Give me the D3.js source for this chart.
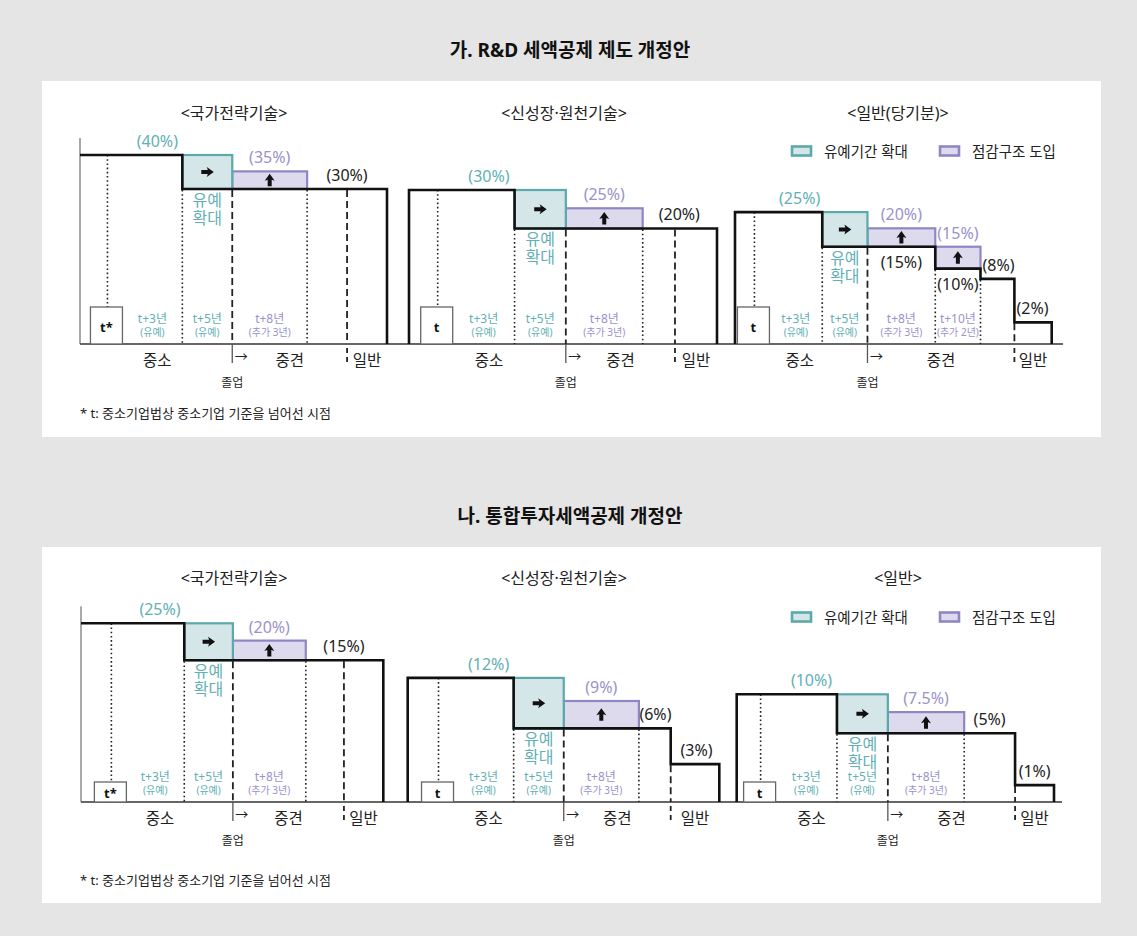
<!DOCTYPE html>
<html>
<head>
<meta charset="utf-8">
<script src="https://cdn.jsdelivr.net/npm/d3@7"></script>
<style>
  body { margin: 0; background: #e5e5e5; }
  svg { display: block; }
  text { font-family: "Noto Sans", "Noto Sans CJK KR", sans-serif; }
</style>
</head>
<body>
<svg id="chart" width="1137" height="936"></svg>
<script>
// ---------- text ----------
const sectionTitles = ["가. R&D 세액공제 제도 개정안", "나. 통합투자세액공제 개정안"];
const chartTitlesRD = ["<국가전략기술>", "<신성장·원천기술>", "<일반(당기분)>"];
const chartTitlesInv = ["<국가전략기술>", "<신성장·원천기술>", "<일반>"];
const legendLabels = ["유예기간 확대", "점감구조 도입"];
const stageLabels = ["중소", "중견", "일반"];
const graceLabel = ["유예", "확대"];
const graduationLabel = "졸업";
const footnote = "* t: 중소기업법상 중소기업 기준을 넘어선 시점";

// ---------- data (years counted from t, credit rates in %) ----------
// Credit-rate step line: [year the rate starts, rate]; the last entry closes the line
const rdNationalSteps  = [[-1.1, 40], [3, 30], [11.2, 30]];
const rdGrowthSteps    = [[-1.12, 30], [3, 20], [10.9, 20]];
const rdGeneralSteps   = [[-0.86, 25], [3, 15], [8, 10], [10, 8], [11.5, 2], [13.15, 2]];
const invNationalSteps = [[-1.25, 25], [3, 15], [11.19, 15]];
const invGrowthSteps   = [[-1.23, 12], [3, 6], [9.27, 3], [11.21, 3]];
const invGeneralSteps  = [[-0.94, 10], [3, 5], [10, 1], [11.53, 1]];

// Phase-down (점감) boxes: [from year, to year, rate]
const rdNationalTaper  = [[5, 8, 35]];
const rdGrowthTaper    = [[5, 8, 25]];
const rdGeneralTaper   = [[5, 8, 20], [8, 10, 15]];
const invNationalTaper = [[5, 8, 20]];
const invGrowthTaper   = [[5, 8, 9]];
const invGeneralTaper  = [[5, 8, 7.5]];

// Extended grace period (유예): t+3 → t+5; graduation (졸업) at its end
const graceYears = [3, 5];
// Year the firm is treated as 일반 (general)
const generalYears = [9.6, 9.26, 11.5, 9.57, 9.27, 10];

// ---------- layout ----------
const W = 1137, H = 936;
const panels = [
  { title: sectionTitles[0], titleY: 50, top: 81, baseline: 344, legendY: 151, chartTitleY: 113, footY: 413, tBoxH: 37, baseX: [80, 1063] },
  { title: sectionTitles[1], titleY: 516, top: 547, baseline: 802, legendY: 617, chartTitleY: 578, footY: 880, tBoxH: 20, baseX: [81, 1062] }
];

// rateLabels: [step index, year of label centre, side (-1 above / 1 below)]
const charts = [
  { panel: 0, title: chartTitlesRD[0], cx: 234, steps: rdNationalSteps, taper: rdNationalTaper, general: generalYears[0], tMark: "t*", axis: true,
    xRange: [80, 387], yRange: [408.6, 155], rateLabels: [[1, 9.6, -1]] },
  { panel: 0, title: chartTitlesRD[1], cx: 564, steps: rdGrowthSteps, taper: rdGrowthTaper, general: generalYears[1], tMark: "t", axis: false,
    xRange: [409, 717], yRange: [399.8, 190], rateLabels: [[1, 9.43, -1]] },
  { panel: 0, title: chartTitlesRD[2], cx: 898, steps: rdGeneralSteps, taper: rdGeneralTaper, general: generalYears[2], tMark: "t", axis: false,
    xRange: [735, 1051.7], yRange: [365.8, 212.1], rateLabels: [[1, 6.5, 1], [2, 9, 1], [3, 10.8, -1], [4, 12.3, -1]] },
  { panel: 1, title: chartTitlesInv[0], cx: 234, steps: invNationalSteps, taper: invNationalTaper, general: generalYears[3], tMark: "t*", axis: true,
    xRange: [81, 383.3], yRange: [787.3, 623.3], rateLabels: [[1, 9.57, -1]] },
  { panel: 1, title: chartTitlesInv[1], cx: 564, steps: invGrowthSteps, taper: invGrowthTaper, general: generalYears[4], tMark: "t", axis: false,
    xRange: [407.7, 719.3], yRange: [850.4, 677.9], rateLabels: [[1, 8.66, -1], [2, 10.3, -1]] },
  { panel: 1, title: chartTitlesInv[2], cx: 898, steps: invGeneralSteps, taper: invGeneralTaper, general: generalYears[5], tMark: "t", axis: false,
    xRange: [736.7, 1054], yRange: [827.1, 694.3], rateLabels: [[1, 9.0, -1], [2, 10.77, -1]] }
];

const COL = {
  teal: "#5ba8ad", tealFill: "#d4e6e7", tealText: "#62b0b5",
  purple: "#8f87c3", purpleFill: "#dddaed", purpleText: "#9a92cc",
  ink: "#111", text: "#222", guide: "#222", gray: "#666"
};

const svg = d3.select("#chart");
svg.append("rect").attr("width", W).attr("height", H).attr("fill", "#e5e5e5");

// ---------- panels ----------
panels.forEach(p => {
  svg.append("rect").attr("x", 42).attr("y", p.top).attr("width", 1059).attr("height", 356).attr("fill", "#fff");
  svg.append("text").attr("x", 570).attr("y", p.titleY)
    .attr("text-anchor", "middle").attr("dominant-baseline", "central")
    .attr("font-size", 19).attr("font-weight", 700).attr("fill", COL.ink).text(p.title);

  // shared baseline
  svg.append("line").attr("x1", p.baseX[0]).attr("x2", p.baseX[1])
    .attr("y1", p.baseline).attr("y2", p.baseline)
    .attr("stroke", "#333").attr("stroke-width", 1.5);

  // legend
  const lg = svg.append("g").attr("transform", `translate(0,${p.legendY})`);
  [[792, COL.teal, COL.tealFill, 824, legendLabels[0]], [940, COL.purple, COL.purpleFill, 972, legendLabels[1]]]
    .forEach(([lx, st, fi, tx, label]) => {
      lg.append("rect").attr("x", lx).attr("y", -4.5).attr("width", 19).attr("height", 9)
        .attr("fill", fi).attr("stroke", st).attr("stroke-width", 2.6);
      lg.append("text").attr("x", tx).attr("y", 0).attr("dominant-baseline", "central")
        .attr("font-size", 14.5).attr("fill", COL.text).text(label);
    });

  svg.append("text").attr("x", 80).attr("y", p.footY).attr("dominant-baseline", "central")
    .attr("font-size", 13).attr("fill", COL.text).text(footnote);
});

// right / up arrow glyph, centred on the origin
const arrowPath = "M6.5,0 L-0.5,-5 L0.5,-2 L-6,-2 L-6,2 L0.5,2 L-0.5,5 Z";

// ---------- charts ----------
charts.forEach(c => {
  const p = panels[c.panel];
  const base = p.baseline;
  const g = svg.append("g");
  const yrs = c.steps.map(d => d[0]);
  const x = d3.scaleLinear().domain([yrs[0], yrs[yrs.length - 1]]).range(c.xRange);
  const y = d3.scaleSqrt().domain([0, d3.max(c.steps, d => d[1])]).range(c.yRange);
  const rateAt = yr => { let r = c.steps[0][1]; c.steps.forEach(d => { if (d[0] <= yr) r = d[1]; }); return r; };
  const sme = c.steps[0][1];
  const endYear = yrs[yrs.length - 1];

  g.append("text").attr("x", c.cx).attr("y", p.chartTitleY)
    .attr("text-anchor", "middle").attr("dominant-baseline", "central")
    .attr("font-size", 16).attr("fill", COL.text).text(c.title);

  // phase-down boxes
  c.taper.forEach(([a, b, r]) => {
    g.append("rect").attr("x", x(a)).attr("y", y(r))
      .attr("width", x(b) - x(a)).attr("height", y(rateAt(a)) - y(r))
      .attr("fill", COL.purpleFill).attr("stroke", COL.purple).attr("stroke-width", 2.2);
  });
  // grace-extension box
  const [g0, g1] = graceYears;
  g.append("rect").attr("x", x(g0)).attr("y", y(sme))
    .attr("width", x(g1) - x(g0)).attr("height", y(rateAt(g0)) - y(sme))
    .attr("fill", COL.tealFill).attr("stroke", COL.teal).attr("stroke-width", 2.2);

  // left axis for the strategic-technology charts
  if (c.axis) {
    g.append("line").attr("x1", x(yrs[0])).attr("x2", x(yrs[0]))
      .attr("y1", y(sme) - 17).attr("y2", base)
      .attr("stroke", "#555").attr("stroke-width", 1);
  }

  // t box
  const tx = x(0);
  g.append("rect").attr("x", tx - 17).attr("y", base - p.tBoxH).attr("width", 32).attr("height", p.tBoxH)
    .attr("fill", "#fff").attr("stroke", COL.gray).attr("stroke-width", 1.3);
  g.append("text").attr("x", tx - 1).attr("y", base - p.tBoxH / 2 + 1)
    .attr("text-anchor", "middle").attr("dominant-baseline", "central")
    .attr("font-size", 13).attr("font-weight", 700).attr("fill", COL.ink).text(c.tMark);

  // dotted guides: t, t+3 and the end of each phase-down period
  const dotted = (xx, y1, y2) => g.append("line").attr("x1", xx).attr("x2", xx).attr("y1", y1).attr("y2", y2)
    .attr("stroke", COL.guide).attr("stroke-width", 1.6).attr("stroke-dasharray", "1.6 2.6");
  dotted(tx, y(sme), base - p.tBoxH);
  [g0, ...c.taper.map(d => d[1])].forEach(yr => dotted(x(yr), y(rateAt(yr)) + 1, base));

  // dashed guides: graduation (졸업) and general (일반)
  const dashed = (xx, y1, y2) => g.append("line").attr("x1", xx).attr("x2", xx).attr("y1", y1).attr("y2", y2)
    .attr("stroke", COL.guide).attr("stroke-width", 1.8).attr("stroke-dasharray", "7 4");
  dashed(x(g1), y(rateAt(g1)) + 1, base);
  g.append("line").attr("x1", x(g1)).attr("x2", x(g1)).attr("y1", base).attr("y2", base + 19)
    .attr("stroke", "#555").attr("stroke-width", 1.3);
  dashed(x(c.general), y(rateAt(c.general)) + 1, base);
  g.append("line").attr("x1", x(c.general)).attr("x2", x(c.general)).attr("y1", base + 4).attr("y2", base + 18)
    .attr("stroke", COL.guide).attr("stroke-width", 1.8).attr("stroke-dasharray", "5 4");

  // step line of the credit rate
  const pts = c.steps.map(d => [x(d[0]), y(d[1])]);
  const path = (c.axis ? [] : [[x(yrs[0]), base]]).concat(pts, [[x(endYear), base]]);
  g.append("path").attr("d", d3.line().curve(d3.curveStepAfter)(path))
    .attr("fill", "none").attr("stroke", COL.ink).attr("stroke-width", 2.6).attr("stroke-linejoin", "miter");

  // arrows
  g.append("path").attr("d", arrowPath).attr("fill", COL.ink)
    .attr("transform", `translate(${(x(g0) + x(g1)) / 2},${(y(sme) + y(rateAt(g0))) / 2})`);
  c.taper.forEach(([a, b, r]) => {
    g.append("path").attr("d", arrowPath).attr("fill", COL.ink)
      .attr("transform", `translate(${(x(a) + x(b)) / 2},${(y(r) + y(rateAt(a))) / 2}) rotate(-90)`);
  });

  // rate labels
  const rateText = (xx, yy, r, col) => g.append("text").attr("x", xx).attr("y", yy)
    .attr("text-anchor", "middle").attr("dominant-baseline", "central")
    .attr("font-size", 16).attr("fill", col).text(`(${r}%)`);
  rateText(x(2), y(sme) - 14, sme, COL.tealText);
  c.taper.forEach(([a, b, r]) => rateText((x(a) + x(b)) / 2, y(r) - 14, r, COL.purpleText));
  c.rateLabels.forEach(([i, yr, side]) => {
    const r = c.steps[i][1];
    rateText(x(yr), y(r) + (side < 0 ? -14 : 15), r, COL.text);
  });

  // 유예 확대 under the grace box
  graceLabel.forEach((t, i) => {
    g.append("text").attr("x", (x(g0) + x(g1)) / 2).attr("y", y(rateAt(g0)) + 11 + i * 18)
      .attr("text-anchor", "middle").attr("dominant-baseline", "central")
      .attr("font-size", 16).attr("fill", COL.tealText).text(t);
  });

  // period labels (t+3년 …) along the bottom
  const periods = [
    { a: null, b: g0, note: "(유예)", col: COL.tealText },
    { a: g0, b: g1, note: "(유예)", col: COL.tealText },
    ...c.taper.map(([a, b]) => ({ a, b, note: `(추가 ${b - a}년)`, col: COL.purpleText }))
  ];
  periods.forEach(pd => {
    const left = pd.a === null ? tx + 15 : x(pd.a);
    const cxp = (left + x(pd.b)) / 2;
    g.append("text").attr("x", cxp).attr("y", base - 25.5)
      .attr("text-anchor", "middle").attr("dominant-baseline", "central")
      .attr("font-size", 12).attr("fill", pd.col).text(`t+${pd.b}년`);
    g.append("text").attr("x", cxp).attr("y", base - 12)
      .attr("text-anchor", "middle").attr("dominant-baseline", "central")
      .attr("font-size", 10).attr("fill", pd.col).text(pd.note);
  });

  // stage labels under the baseline
  const stageX = [x(2), (x(g1) + x(c.general)) / 2, (x(c.general) + x(endYear)) / 2];
  stageLabels.forEach((s, i) => {
    g.append("text").attr("x", stageX[i]).attr("y", base + 16)
      .attr("text-anchor", "middle").attr("dominant-baseline", "central")
      .attr("font-size", 15.5).attr("fill", COL.text).text(s);
  });
  g.append("text").attr("x", x(g1) + 9).attr("y", base + 12)
    .attr("text-anchor", "middle").attr("dominant-baseline", "central")
    .attr("font-size", 13).attr("fill", COL.text).text("→");
  g.append("text").attr("x", x(g1)).attr("y", base + 38)
    .attr("text-anchor", "middle").attr("dominant-baseline", "central")
    .attr("font-size", 12).attr("fill", COL.text).text(graduationLabel);
});
</script>
</body>
</html>
